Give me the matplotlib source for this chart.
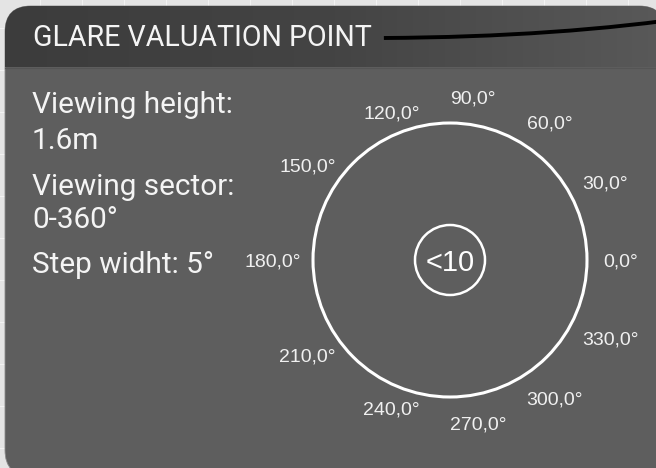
import numpy as np
import matplotlib
matplotlib.use("Agg")
import matplotlib.pyplot as plt
from matplotlib.patches import FancyBboxPatch, Circle, PathPatch
from matplotlib.path import Path as MplPath


TITLE = "GLARE VALUATION POINT"
INFO_LINES = ["Viewing height:", "1.6m", "Viewing sector:", "0-360°", "Step widht: 5°"]
ANGLES = [0, 30, 60, 90, 120, 150, 180, 210, 240, 270, 300, 330]
ANGLE_LABELS = [f"{a:.1f}".replace(".", ",") + "°" for a in ANGLES]
GLARE_VALUE = "<10"

W, H = 656, 468
BG = "#e4e4e4"
BODY = "#5e5e5e"
TEXT = "#f4f4f4"


def px_to_pt(v):
    return v * 72.0 / 100.0


def draw_card(ax):
    # faint grid of the canvas behind the card
    for x in np.arange(40, W, 42):
        ax.axvline(x, color="#f2f2f2", lw=0.8, zorder=0)
    for y in np.arange(28, H, 42):
        ax.axhline(y, color="#f2f2f2", lw=0.8, zorder=0)

    card = FancyBboxPatch((5, 6), 660, 470, boxstyle="round,pad=0,rounding_size=26",
                          facecolor=BODY, edgecolor="#8a8a8a", lw=0.6, zorder=1)
    ax.add_patch(card)

    # header band with a left-to-right gradient
    grad = np.linspace(0, 1, 256).reshape(1, -1)
    img = ax.imshow(grad, extent=(5, 665, 67, 6), cmap=matplotlib.colors.LinearSegmentedColormap.from_list(
        "hdr", ["#3c3c3c", "#444444", "#595959"]), aspect="auto", zorder=2)
    img.set_clip_path(card)
    ax.plot([5, 665], [67.5, 67.5], color="#555555", lw=0.8, zorder=3)


def main():
    fig = plt.figure(figsize=(W / 100, H / 100), dpi=100)
    fig.patch.set_facecolor(BG)
    ax = fig.add_axes([0, 0, 1, 1])
    ax.set_xlim(0, W)
    ax.set_ylim(H, 0)
    ax.set_axis_off()

    draw_card(ax)

    title = ax.text(33, 46, TITLE, family="Roboto", fontsize=20.6, color=TEXT,
                    ha="left", va="baseline", zorder=4)

    renderer = fig.canvas.get_renderer()
    bb = title.get_window_extent(renderer)
    x0 = bb.x1 + 12
    wire = MplPath([(x0, 38), (560, 37), (700, 16)],
                   [MplPath.MOVETO, MplPath.CURVE3, MplPath.CURVE3])
    ax.add_patch(PathPatch(wire, facecolor="none", edgecolor="black", lw=2.8,
                           capstyle="butt", zorder=4))

    baselines = [113, 149, 195, 228, 273]
    for line, yb in zip(INFO_LINES, baselines):
        ax.text(32, yb, line, family="Roboto", fontsize=21.4, color=TEXT,
                ha="left", va="baseline", zorder=4)

    # polar diagram, unit circle = 137 px radius, centred at (450, 260)
    r_px = 137.0
    span = 1.6
    size = 2 * span * r_px
    cx, cy = 450.0, 260.0
    pax = fig.add_axes([(cx - size / 2) / W, (H - cy - size / 2) / H, size / W, size / H])
    pax.set_xlim(-span, span)
    pax.set_ylim(-span, span)
    pax.set_aspect("equal")
    pax.set_axis_off()
    pax.patch.set_alpha(0)

    pax.add_patch(Circle((0, 0), 1.0, facecolor="none", edgecolor="white", lw=2.2, zorder=3))
    pax.add_patch(Circle((0, 0), 35 / r_px, facecolor="none", edgecolor="white", lw=1.8, zorder=3))
    pax.text(0, 0, GLARE_VALUE, family="Liberation Sans", fontsize=21, color="white",
             ha="center", va="center_baseline", zorder=4)

    r_lab = 153 / r_px
    for ang, lab in zip(ANGLES, ANGLE_LABELS):
        th = np.deg2rad(ang)
        c, s = np.cos(th), np.sin(th)
        if abs(c) < 1e-9:
            c = 0.0
        if abs(s) < 1e-9:
            s = 0.0
        extra = 10 * (1 - c) * np.sign(s)
        t = pax.annotate(lab, (r_lab * c, r_lab * s), xytext=(0, px_to_pt(extra)),
                         textcoords="offset points", family="Liberation Sans",
                         fontsize=14, color="#f0f0f0", ha="left",
                         va="center_baseline", zorder=4)
        frac = c * c if c < -0.01 else 0.0
        if frac:
            w = t.get_window_extent(renderer).width
            t.set_position((px_to_pt(4 - w * frac), px_to_pt(extra)))

    fig.savefig("out.png", dpi=100, facecolor=BG)


if __name__ == "__main__":
    main()
